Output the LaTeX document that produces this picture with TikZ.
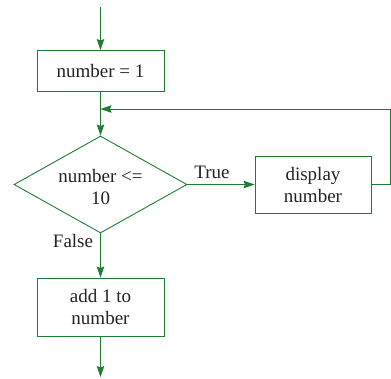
\documentclass[tikz,border=0pt]{standalone}
\usepackage{fontspec}
\setmainfont{Liberation Serif}
\usetikzlibrary{shapes.geometric,arrows.meta}
\definecolor{fc}{RGB}{30,125,50}
\definecolor{tc}{RGB}{35,35,35}
\begin{document}
\begin{tikzpicture}[x=1pt,y=-1pt,
  font=\fontsize{19}{22}\selectfont,
  proc/.style={draw=fc, line width=0.9pt, inner sep=0pt, align=center, text=tc},
  dec/.style={draw=fc, line width=0.9pt, diamond, inner sep=0pt, minimum width=173pt, minimum height=97pt},
  lbl/.style={text=tc, inner sep=0pt},
  arr/.style={draw=fc, line width=0.9pt, -{Stealth[length=11pt,width=7.5pt,inset=1.5pt]}}]
\useasboundingbox (0,0) rectangle (391,378);
\node[proc, minimum width=127pt, minimum height=41pt] (b1) at (100.5,71) {number = 1};
\node[dec] (d) at (100.5,184.5) {};
\node[lbl, align=center] (dt) at (100.5,187) {number <=\\10};
\node[proc, minimum width=116pt, minimum height=57pt] (b2) at (313,184.5) {display\\number};
\node[proc, minimum width=127pt, minimum height=58pt] (b3) at (100.5,307) {add 1 to\\number};
\node[lbl] (tl) at (212,172) {True};
\node[lbl] (fl) at (73,241) {False};
\coordinate (s) at (100.5,7);
\coordinate (e) at (100.5,377);
\coordinate (c) at (390,109);
\coordinate (j) at (100.5,109);
\draw[arr] (s) -- (b1.north);
\draw[arr] (b1.south) -- (d.north);
\draw[arr] (b2.east) -| (c) -- (j);
\draw[arr] (d.east) -- (b2.west);
\draw[arr] (d.south) -- (b3.north);
\draw[arr] (b3.south) -- (e);
\end{tikzpicture}
\end{document}
